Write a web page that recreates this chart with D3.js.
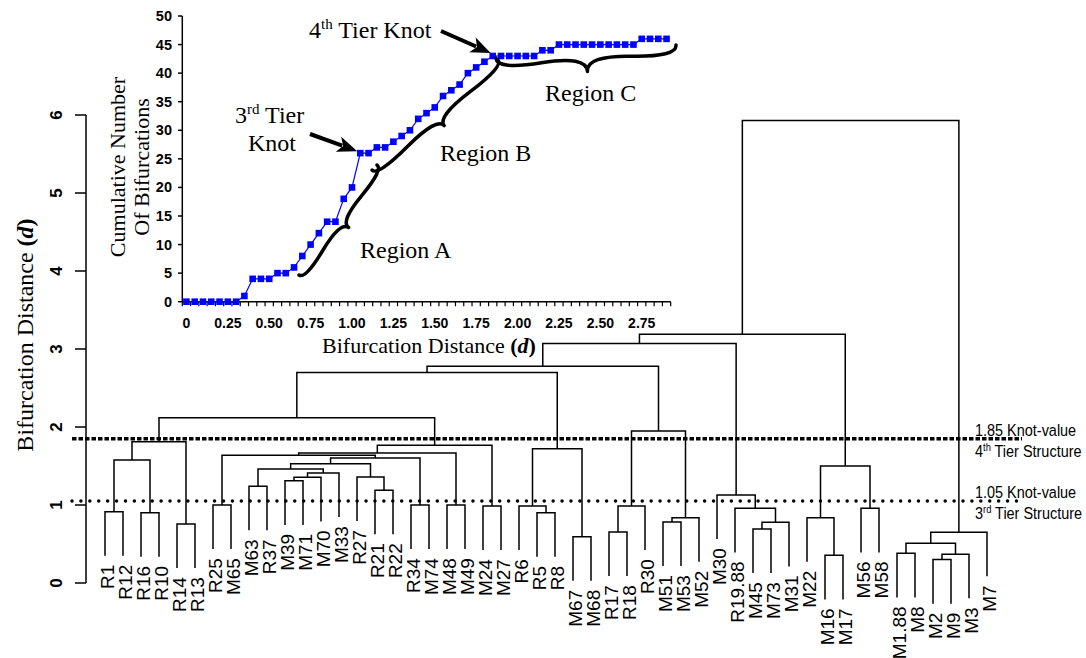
<!DOCTYPE html>
<html><head><meta charset="utf-8">
<script src="https://cdn.jsdelivr.net/npm/d3@7"></script>
<style>
body{margin:0;background:#fff;}
svg{display:block;}
</style></head><body>
<svg id="chart" width="1086" height="658"></svg>
<script>
// ---------------- DATA ----------------
const leaves = ["R1","R12","R16","R10","R14","R13","R25","M65","M63","R37","M39","M71","M70","M33","R27","R21","R22","R34","M74","M48","M49","M24","M27","R6","R5","R8","M67","M68","R17","R18","R30","M51","M53","M52","M30","R19.88","M45","M73","M31","M22","M16","M17","M56","M58","M1.88","M8","M2","M9","M3","M7"];

// [id, left child, right child, bifurcation distance]
const merges = [
  ["m1","R1","R12",0.914],["m2","R16","R10",0.90],["m3","m1","m2",1.577],
  ["m4","R14","R13",0.756],["A","m3","m4",1.81],
  ["m5","R25","M65",1.00],["m6","M63","R37",1.24],["m7","M39","M71",1.31],
  ["m8","m7","M70",1.355],["m9","m8","M33",1.41],["m10","m6","m9",1.46],
  ["m11","R21","R22",1.19],["m12","R27","m11",1.36],["m13","m10","m12",1.53],
  ["m14","R34","M74",1.00],["m15","m13","m14",1.603],["m16","m5","m15",1.637],
  ["m17","M48","M49",1.00],["m18","m16","m17",1.667],["m19","M24","M27",0.987],
  ["B","m18","m19",1.765],["AB","A","B",2.12],
  ["m20","R5","R8",0.90],["m21","R6","m20",0.987],["m22","M67","M68",0.594],
  ["C","m21","m22",1.72],["ABC","AB","C",2.70],
  ["m23","R17","R18",0.654],["m24","m23","R30",0.987],["m25","M51","M53",0.782],
  ["m26","m25","M52",0.837],["D","m24","m26",1.95],["ABCD","ABC","D",2.78],
  ["m27","M45","M73",0.692],["m28","m27","M31",0.778],["m29","R19.88","m28",0.957],
  ["E","M30","m29",1.128],["ABCDE","ABCD","E",3.07],
  ["m30","M16","M17",0.355],["m31","M22","m30",0.837],["m32","M56","M58",0.957],
  ["F","m31","m32",1.50],["ABCDEF","ABCDE","F",3.19],
  ["m33","M1.88","M8",0.38],["m34","M2","M9",0.30],["m35","m34","M3",0.368],
  ["m36","m33","m35",0.509],["G","m36","M7",0.65],
  ["root","ABCDEF","G",5.93]
];
const leafHang = 0.565;
const yTicks = [0,1,2,3,4,5,6];
const knotValues = [1.85, 1.05];
const knotNames = ["1.85 Knot-value","1.05 Knot-value"];
const tierNums = ["4","3"];
const tierSups = ["th","rd"];

// inset: cumulative number of bifurcations
const insetD = [0,0.05,0.1,0.15,0.2,0.25,0.3,0.35,0.4,0.45,0.5,0.55,0.6,0.65,0.7,0.75,0.8,0.85,0.9,0.95,1,1.05,1.1,1.15,1.2,1.25,1.3,1.35,1.4,1.45,1.5,1.55,1.6,1.65,1.7,1.75,1.8,1.85,1.9,1.95,2,2.05,2.1,2.15,2.2,2.25,2.3,2.35,2.4,2.45,2.5,2.55,2.6,2.65,2.7,2.75,2.8,2.85,2.9];
const insetCount = [0,0,0,0,0,0,0,1,4,4,4,5,5,6,8,10,12,14,14,18,20,26,26,27,27,28,29,30,32,33,34,36,37,38,40,41,42,43,43,43,43,43,43,44,44,45,45,45,45,45,45,45,45,45,45,46,46,46,46];
const insetYTicks = [0,5,10,15,20,25,30,35,40,45,50];
const insetXLabelValues = [0,0.25,0.5,0.75,1,1.25,1.5,1.75,2,2.25,2.5,2.75];
const insetXLabels = ["0","0.25","0.50","0.75","1.00","1.25","1.50","1.75","2.00","2.25","2.50","2.75"];

// ---------------- DRAW ----------------
const SERIF = "'Liberation Serif','Times New Roman',serif";
const SANS = "'Liberation Sans',Arial,sans-serif";
const svg = d3.select("#chart");

// main scales
const y = d3.scaleLinear().domain([0,6]).range([583,115]);
const x = d3.scalePoint().domain(leaves).range([105,987]);

// compute node positions
const node = {};
leaves.forEach(l => node[l] = {x: x(l), h: null, leaf: true});
merges.forEach(([id,a,b,h]) => {
  node[id] = {x: (node[a].x + node[b].x)/2, h: h, leaf: false};
});
const dendro = svg.append("g");
merges.forEach(([id,a,b,h]) => {
  const na = node[a], nb = node[b];
  const ya = na.leaf ? y(h - leafHang) : y(na.h);
  const yb = nb.leaf ? y(h - leafHang) : y(nb.h);
  const p = d3.path();
  p.moveTo(na.x, ya); p.lineTo(na.x, y(h)); p.lineTo(nb.x, y(h)); p.lineTo(nb.x, yb);
  dendro.append("path").attr("d", p.toString()).attr("fill","none")
    .attr("stroke","#000").attr("stroke-width",1.5);
  [[a,na,ya],[b,nb,yb]].forEach(([name,n,yy]) => {
    if (n.leaf) {
      dendro.append("text")
        .attr("transform", `translate(${n.x+2.5},${yy+9}) rotate(-90)`)
        .attr("text-anchor","end").attr("dy","0.35em")
        .attr("font-family",SANS).attr("font-size",19).text(name);
    }
  });
});

// main y axis
const yAxis = svg.append("g").attr("transform","translate(86,0)");
yAxis.append("line").attr("x1",0).attr("x2",0).attr("y1",y(0)).attr("y2",y(6))
  .attr("stroke","#000").attr("stroke-width",1.5);
yAxis.selectAll("line.t").data(yTicks).join("line").attr("class","t")
  .attr("x1",-11).attr("x2",0).attr("y1",d=>y(d)).attr("y2",d=>y(d))
  .attr("stroke","#000").attr("stroke-width",1.5);
yAxis.selectAll("text").data(yTicks).join("text")
  .attr("transform",d=>`translate(-30,${y(d)}) rotate(-90)`)
  .attr("text-anchor","middle").attr("dy","0.35em")
  .attr("font-family",SANS).attr("font-weight","bold").attr("font-size",17)
  .text(d=>d);
const yt = svg.append("text").attr("transform","translate(33,335) rotate(-90)")
  .attr("text-anchor","middle").attr("font-family",SERIF).attr("font-size",24);
yt.append("tspan").text("Bifurcation Distance ");
yt.append("tspan").attr("font-weight","bold").text("(");
yt.append("tspan").attr("font-weight","bold").attr("font-style","italic").text("d");
yt.append("tspan").attr("font-weight","bold").text(")");

// knot lines
const knotG = svg.append("g");
knotValues.forEach((k,i) => {
  knotG.append("line").attr("x1",72).attr("x2",1022).attr("y1",y(k)).attr("y2",y(k))
    .attr("stroke","#000").attr("stroke-width",3.5)
    .attr("stroke-dasharray", i===0 ? "4.5,2" : "0.01,8.9")
    .attr("stroke-linecap", i===0 ? "butt" : "round");
  const t1 = knotG.append("g").attr("transform",`translate(975,${y(k)-3}) scale(0.85,1)`);
  t1.append("text").attr("font-family",SANS).attr("font-size",17).text(knotNames[i]);
  const t2 = knotG.append("g").attr("transform",`translate(975,${y(k)+18}) scale(0.85,1)`);
  const tx = t2.append("text").attr("font-family",SANS).attr("font-size",17);
  tx.append("tspan").text(tierNums[i]);
  tx.append("tspan").attr("font-size",11).attr("dy",-6).text(tierSups[i]);
  tx.append("tspan").attr("dy",6).text(" Tier Structure");
});

// ---------------- INSET ----------------
const xi = d3.scaleBand().domain(insetD).range([182.3,670.7]).padding(0);
const bw = xi.bandwidth();
const yi = d3.scaleLinear().domain([0,50]).range([301.7,16]);
const cx = d => xi(d) + bw/2;
const inset = svg.append("g");

// axes
inset.append("line").attr("x1",182.3).attr("x2",182.3).attr("y1",yi(0)).attr("y2",yi(50))
  .attr("stroke","#000").attr("stroke-width",1.5);
inset.selectAll("line.yt").data(insetYTicks).join("line").attr("class","yt")
  .attr("x1",178).attr("x2",182.3).attr("y1",d=>yi(d)).attr("y2",d=>yi(d))
  .attr("stroke","#000").attr("stroke-width",1.5);
inset.selectAll("text.yl").data(insetYTicks).join("text").attr("class","yl")
  .attr("x",172).attr("y",d=>yi(d)).attr("dy","0.35em").attr("text-anchor","end")
  .attr("font-family",SANS).attr("font-weight","bold").attr("font-size",14.5).text(d=>d);
inset.append("line").attr("x1",182.3).attr("x2",670.7).attr("y1",yi(0)).attr("y2",yi(0))
  .attr("stroke","#000").attr("stroke-width",1.5);
const boundaries = insetD.map(d=>xi(d)).concat([xi(insetD[insetD.length-1])+bw]);
inset.selectAll("line.xt").data(boundaries).join("line").attr("class","xt")
  .attr("x1",d=>d).attr("x2",d=>d).attr("y1",yi(0)).attr("y2",yi(0)+4.5)
  .attr("stroke","#000").attr("stroke-width",1.2);
inset.selectAll("text.xl").data(insetXLabelValues).join("text").attr("class","xl")
  .attr("x",d=>cx(d)).attr("y",328).attr("text-anchor","middle")
  .attr("font-family",SANS).attr("font-weight","bold").attr("font-size",14)
  .text((d,i)=>insetXLabels[i]);

// series
const pts = insetD.map((d,i)=>[d, insetCount[i]]);
inset.append("path").attr("d", d3.line().x(p=>cx(p[0])).y(p=>yi(p[1]))(pts))
  .attr("fill","none").attr("stroke","#0000ff").attr("stroke-width",1.2);
inset.selectAll("rect.mk").data(pts).join("rect").attr("class","mk")
  .attr("x",p=>cx(p[0])-3.3).attr("y",p=>yi(p[1])-3.3).attr("width",6.6).attr("height",6.6)
  .attr("fill","#0000ff");

// inset titles
const xt = inset.append("text").attr("x",429).attr("y",353).attr("text-anchor","middle")
  .attr("font-family",SERIF).attr("font-size",22);
xt.append("tspan").text("Bifurcation Distance ");
xt.append("tspan").attr("font-weight","bold").text("(");
xt.append("tspan").attr("font-weight","bold").attr("font-style","italic").text("d");
xt.append("tspan").attr("font-weight","bold").text(")");
inset.append("text").attr("transform","translate(125,167) rotate(-90)").attr("text-anchor","middle")
  .attr("font-family",SERIF).attr("font-size",22).text("Cumulative Number");
inset.append("text").attr("transform","translate(149,167) rotate(-90)").attr("text-anchor","middle")
  .attr("font-family",SERIF).attr("font-size",22).text("Of Bifurcations");

// annotations
function brace(x1,y1,x2,y2,w,q){
  let dx=x1-x2, dy=y1-y2; const len=Math.hypot(dx,dy); dx/=len; dy/=len;
  const qx1=x1+q*w*dy, qy1=y1-q*w*dx;
  const qx2=(x1-.25*len*dx)+(1-q)*w*dy, qy2=(y1-.25*len*dy)-(1-q)*w*dx;
  const tx1=(x1-.5*len*dx)+w*dy, ty1=(y1-.5*len*dy)-w*dx;
  const qx3=x2+q*w*dy, qy3=y2-q*w*dx;
  const qx4=(x1-.75*len*dx)+(1-q)*w*dy, qy4=(y1-.75*len*dy)-(1-q)*w*dx;
  return `M${x1},${y1}Q${qx1},${qy1} ${qx2},${qy2}T${tx1},${ty1}M${x2},${y2}Q${qx3},${qy3} ${qx4},${qy4}T${tx1},${ty1}`;
}
const ann = svg.append("g");
[[299,275,377,165,13],[372,170,498,60,14],[496,58,676,45,20]].forEach(b=>{
  ann.append("path").attr("d",brace(b[0],b[1],b[2],b[3],b[4],0.6))
    .attr("fill","none").attr("stroke","#000").attr("stroke-width",3.5).attr("stroke-linecap","round");
});
function arrow(x0,y0,x1,y1){
  let ux=x1-x0, uy=y1-y0; const L=Math.hypot(ux,uy); ux/=L; uy/=L;
  const hl=20, hw=16;
  const bx=x1-hl*ux, by=y1-hl*uy;
  ann.append("line").attr("x1",x0).attr("y1",y0).attr("x2",bx+4*ux).attr("y2",by+4*uy)
    .attr("stroke","#000").attr("stroke-width",4);
  ann.append("path").attr("d",`M${x1},${y1}L${bx-uy*hw/2},${by+ux*hw/2}L${bx+5*ux},${by+5*uy}L${bx+uy*hw/2},${by-ux*hw/2}Z`)
    .attr("fill","#000");
}
arrow(441,31, cx(1.85)-2, yi(43)-3);
arrow(310,134, cx(1.05)-3, yi(26)-2);

function supText(xx,yy,a,s,b){
  const t = ann.append("text").attr("x",xx).attr("y",yy).attr("font-family",SERIF).attr("font-size",24);
  t.append("tspan").text(a);
  if (s) { t.append("tspan").attr("font-size",15).attr("dy",-9).text(s); t.append("tspan").attr("dy",9).text(b); }
  return t;
}
supText(309,38,"4","th"," Tier Knot");
supText(235,123,"3","rd"," Tier");
ann.append("text").attr("x",272).attr("y",151).attr("text-anchor","middle").attr("font-family",SERIF).attr("font-size",24).text("Knot");
ann.append("text").attr("x",360).attr("y",258).attr("font-family",SERIF).attr("font-size",24).text("Region A");
ann.append("text").attr("x",440).attr("y",161).attr("font-family",SERIF).attr("font-size",24).text("Region B");
ann.append("text").attr("x",545).attr("y",101).attr("font-family",SERIF).attr("font-size",24).text("Region C");
</script>
</body></html>
